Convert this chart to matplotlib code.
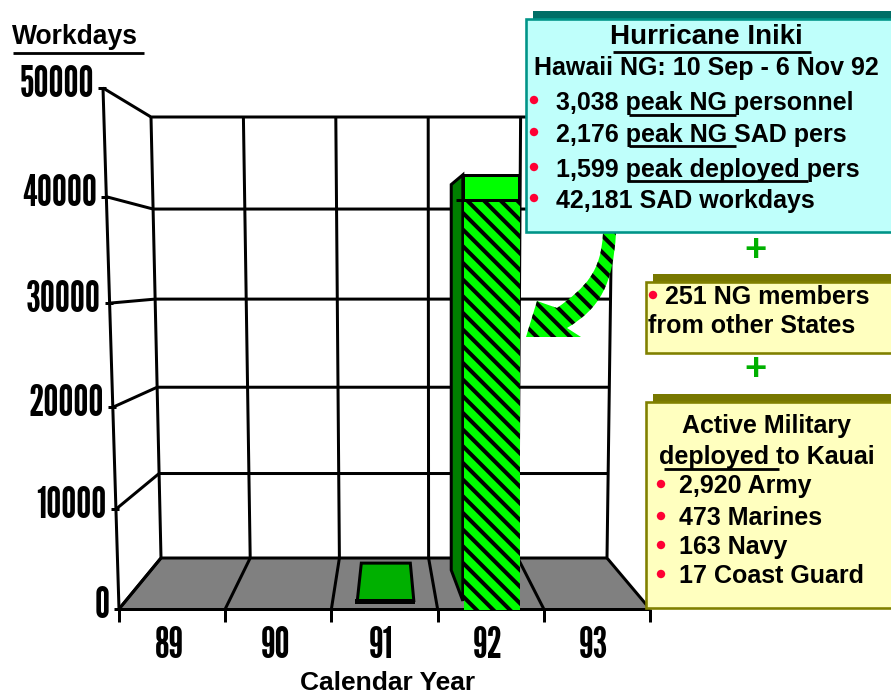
import matplotlib
matplotlib.use("Agg")
import matplotlib.pyplot as plt
from matplotlib.patches import Polygon, PathPatch, Rectangle, Circle
from matplotlib.path import Path

# Chart data
years = ["89", "90", "91", "92", "93"]
workdays = [0, 0, 350, 42181, 0]
value_ticks = [0, 10000, 20000, 30000, 40000, 50000]
max_value = 50000
patterned_part_of_bar = 40000

box_title = "Hurricane Iniki"
box_subtitle = "Hawaii NG: 10 Sep - 6 Nov 92"
hawaii_items = ["3,038 peak NG personnel", "2,176 peak NG SAD pers",
                "1,599 peak deployed pers", "42,181 SAD workdays"]
state_lines = ["251 NG members", "from other States"]
active_header = ["Active Military", "deployed to Kauai"]
active_items = ["2,920 Army", "473 Marines", "163 Navy", "17 Coast Guard"]

plt.rcParams["font.family"] = ["Liberation Sans", "DejaVu Sans"]
plt.rcParams["hatch.linewidth"] = 2.9

fig = plt.figure(figsize=(8.91, 6.96), dpi=100)
ax = fig.add_axes([0, 0, 1, 1])
ax.set_xlim(0, 891)
ax.set_ylim(696, 0)
ax.axis("off")

PX = 0.72  # points per pixel at this resolution
LW = 3.0 * PX
LIME = "#00FF00"
NARROW = ["League Gothic", "Liberation Sans"]
NARROW_SIZE = 30.5


def frac(value):
    """Foreshortened fraction of the value axis height."""
    t = value / max_value
    return t / (t + (1 - t) * 1.055)


def project(col, value, depth):
    """Map (category position, value, depth 0=front 1=back) to canvas pixels."""
    f = frac(value)
    left_front = 119 - 16 * f
    right_front = 650 + 16 * f
    left_back = 161 - 10 * f
    right_back = 607 + 6 * f
    left = left_front + (left_back - left_front) * depth
    right = right_front + (right_back - right_front) * depth
    y_front = 609 - 521 * f
    y_back = 558 - 441 * f
    y = y_front + (y_back - y_front) * depth
    return left + (right - left) * col / len(years), y


def line(points, z=2, lw=LW, color="black"):
    xs, ys = zip(*points)
    ax.plot(xs, ys, color=color, lw=lw, zorder=z, solid_capstyle="butt",
            solid_joinstyle="round")


# Floor
n = len(years)
ax.add_patch(Polygon([project(0, 0, 0), project(n, 0, 0), project(n, 0, 1), project(0, 0, 1)],
                     fc="#808080", ec="none", zorder=1))

# Walls: value gridlines and category dividers
for v in value_ticks:
    line([project(0, v, 0), project(0, v, 1), project(n, v, 1)])
    x, y = project(0, v, 0)
    line([(x - 5, y), (x + 3, y)])
    ax.text(x - 9, y - 3, f"{v}", ha="right", va="center", fontsize=NARROW_SIZE,
            fontweight="bold", family=NARROW, zorder=6)
for c in range(n + 1):
    line([project(c, 0, 0), project(c, 0, 1), project(c, max_value, 1)])
    x, y = project(c, 0, 0)
    line([(x, y), (x, y + 13)])
line([project(0, 0, 0), project(0, max_value, 0)])
line([project(0, 0, 0), project(n, 0, 0)])

# Year labels
for c, year in enumerate(years):
    x = (project(c, 0, 0)[0] + project(c + 1, 0, 0)[0]) / 2
    ax.text(x - 3, 646, year, ha="center", va="center", fontsize=NARROW_SIZE,
            fontweight="bold", family=NARROW, zorder=6)


def bar_corners(col, value):
    c0, c1 = col + 0.25, col + 0.80
    near, far = 0.1, 0.9
    x0 = project(c0, 0, near)[0]
    x1 = project(c1, 0, near)[0]
    xb0 = project(c0, 0, far)[0]
    xb1 = project(c1, 0, far)[0]
    yn0, yn1 = project(c0, 0, near)[1], project(c0, value, near)[1]
    yf0, yf1 = project(c0, 0, far)[1], project(c0, value, far)[1]
    return x0, x1, xb0, xb1, yn0, yn1, yf0, yf1


# Small 1991 bar: the top face dominates because the bar is so short
c = years.index("91")
x0, x1, xb0, xb1, yn0, yn1, yf0, yf1 = bar_corners(c, workdays[c])
ax.add_patch(Polygon([(x0 - 1, yn1), (x1 - 2, yn1), (xb1 - 1, yf1 + 3), (xb0, yf1 + 3)],
                     fc="#00B000", ec="black", lw=LW, zorder=3, joinstyle="miter"))
ax.add_patch(Rectangle((x0 - 3, yn1 - 1), x1 - x0 + 2, yn0 - yn1 + 1, fc="black", ec="none", zorder=3))

# Tall 1992 bar
c = years.index("92")
x0, x1, xb0, xb1, yn0, yn1, yf0, yf1 = bar_corners(c, workdays[c])
ax.add_patch(Polygon([(x0, yn1), (xb0 - 1, yf1 - 3), (xb0 - 1, yf0 + 7), (x0, yn0 - 3)],
                     fc="#007F00", ec="black", lw=LW, zorder=3, joinstyle="miter"))
yp = project(c, patterned_part_of_bar, 0)[1]
ax.add_patch(Rectangle((x0, yn1), x1 - x0 - 1, yp + 3 - yn1, fc=LIME, ec="black", lw=LW, zorder=3))
line([(x0 - 7, yp + 3), (x1 - 1, yp + 3)], z=4)
ax.add_patch(Rectangle((x0 + 1, yp + 4), x1 - x0 - 1, project(c, 0, 0)[1] + 1 - yp - 4,
                       fc=LIME, ec="black", lw=0, hatch="\\\\", zorder=3.5))

# Curved block arrow from the callout to the bar
arrow_verts = [(603, 233), (601, 272), (586, 287), (557, 308), (537, 301), (526, 337), (581, 337),
               (567, 328), (600, 308), (613, 285), (616, 233), (603, 233)]
arrow_codes = [Path.MOVETO, Path.CURVE4, Path.CURVE4, Path.CURVE4, Path.LINETO, Path.LINETO, Path.LINETO,
               Path.LINETO, Path.CURVE4, Path.CURVE4, Path.CURVE4, Path.CLOSEPOLY]
ax.add_patch(PathPatch(Path(arrow_verts, arrow_codes), fc=LIME, ec="black", lw=0, hatch="\\\\", zorder=4))


def callout(x, top, bottom, face, edge, shade):
    ax.add_patch(Rectangle((x + 7, top - 8), 891 - x, 8.5, fc=shade, ec="none", zorder=5))
    ax.add_patch(Rectangle((x, top), 900 - x, bottom - top, fc=face, ec=edge, lw=2.6 * PX, zorder=5))


def label(x, y, s, size, ha="left"):
    ax.text(x, y + 2, s, ha=ha, va="center", fontsize=size * PX, fontweight="bold", color="black", zorder=7)


def bullet(x, y):
    ax.add_patch(Circle((x, y), 4.2, fc="#FF0033", ec="none", zorder=7))


def rule(x0, x1, y):
    line([(x0, y), (x1, y)], z=7, lw=2.8 * PX)


# Hawaii National Guard callout
callout(526, 19, 232, "#BFFFFB", "#009488", "#006E66")
label(706, 35, box_title, 27.7, "center")
rule(613, 811, 52)
label(706, 66, box_subtitle, 25, "center")
for item, yt, yb in zip(hawaii_items, [101, 133, 168, 199], [100, 132, 167, 198]):
    label(556, yt, item, 25)
    bullet(534, yb)
rule(629, 736, 115)
rule(629, 736, 146)
rule(627, 808, 181)

# Plus signs between callouts
for y in (252, 371):
    ax.text(755, y - 1, "+", ha="center", va="center", fontsize=38 * PX, fontweight="bold",
            color="#00B000", zorder=7)

# Other States callout
callout(646, 282, 353, "#FFFFBF", "#808000", "#787800")
bullet(653, 295)
label(665, 295, state_lines[0], 25)
label(648, 324, state_lines[1], 25)

# Active military callout
callout(646, 402, 608, "#FFFFBF", "#808000", "#787800")
label(766, 424, active_header[0], 25, "center")
label(767, 455, active_header[1], 25, "center")
rule(664, 779, 469)
for item, yt in zip(active_items, [484, 516, 545, 574]):
    label(679, yt, item, 25)
    bullet(661, yt)

# Axis titles
label(12, 35, "Workdays", 26.5)
rule(13, 144, 53)
label(388, 681, "Calendar Year", 26.4, "center")

fig.savefig("out.png", dpi=100)
